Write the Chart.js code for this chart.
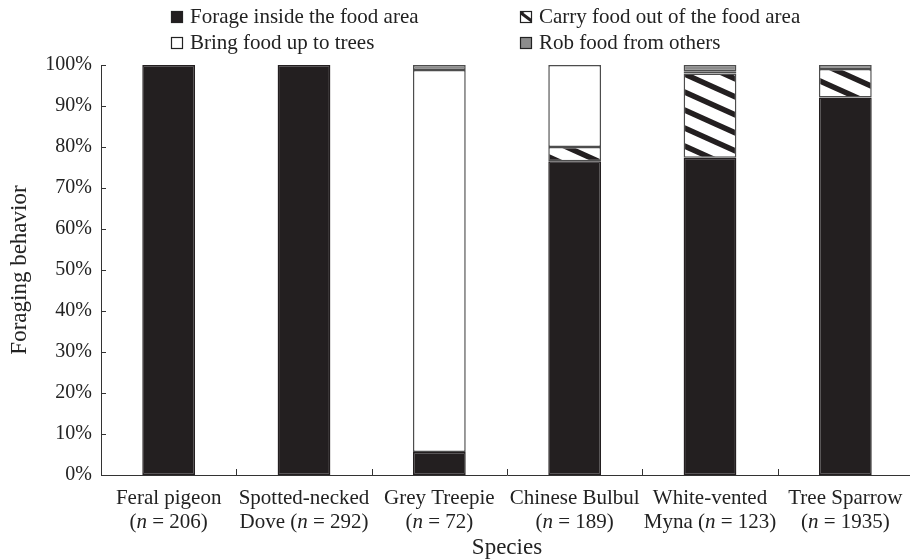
<!DOCTYPE html>
<html>
<head>
<meta charset="utf-8">
<script src="https://cdn.jsdelivr.net/npm/chart.js@4.4.1/dist/chart.umd.min.js"></script>
<style>
  html, body { margin: 0; padding: 0; background: #fff; overflow: hidden; }
  #wrap { position: relative; width: 913px; height: 559px; }
</style>
</head>
<body>
<div id="wrap"><canvas id="myChart"></canvas></div>
<script>
// species names (line 1), line-2 prefix, sample size
const species = ['Feral pigeon', 'Spotted-necked', 'Grey Treepie', 'Chinese Bulbul', 'White-vented', 'Tree Sparrow'];
const line2Prefix = ['', 'Dove ', '', '', 'Myna ', ''];
const sampleN = [206, 292, 72, 189, 123, 1935];

// percentages, stacked bottom -> top
const forage = [100, 100, 5.6, 76.5, 77.4, 92.1];
const carry = [0, 0, 0, 3.5, 20.5, 6.9];
const bring = [0, 0, 93.2, 20.0, 0.6, 0];
const rob = [0, 0, 1.2, 0, 1.5, 1.0];

const yTicks = [0, 10, 20, 30, 40, 50, 60, 70, 80, 90, 100];

const FONT = "'Liberation Serif', 'Times New Roman', serif";
const BLACK = '#231f20';
const GREY = '#8c8c8c';
const EDGE = '#4d4d4d';

// diagonal hatch pattern
function makeHatch() {
  const c = document.createElement('canvas');
  c.width = 40; c.height = 18;
  const g = c.getContext('2d');
  g.fillStyle = '#fff';
  g.fillRect(0, 0, 40, 18);
  g.strokeStyle = BLACK;
  g.lineWidth = 5.5;
  [-18, 0, 18].forEach(off => {
    g.beginPath();
    g.moveTo(-10, off - 4.5);
    g.lineTo(50, off + 22.5);
    g.stroke();
  });
  return g.createPattern(c, 'repeat');
}
const hatch = makeHatch();

const legendItems = [
  { text: 'Forage inside the food area', fill: BLACK, x: 171, y: 17 },
  { text: 'Carry food out of the food area', fill: 'hatch', x: 520, y: 17 },
  { text: 'Bring food up to trees', fill: '#fff', x: 171, y: 43 },
  { text: 'Rob food from others', fill: GREY, x: 520, y: 43 }
];

const customDraw = {
  id: 'customDraw',
  afterDraw(chart) {
    const ctx = chart.ctx;
    const xs = chart.scales.x, ys = chart.scales.y;
    const area = chart.chartArea;
    ctx.save();
    // inward ticks
    ctx.strokeStyle = '#333';
    ctx.lineWidth = 1;
    yTicks.forEach(v => {
      const y = Math.round(ys.getPixelForValue(v)) + 0.5;
      ctx.beginPath();
      ctx.moveTo(area.left, y);
      ctx.lineTo(area.left + 5, y);
      ctx.stroke();
    });
    for (let i = 1; i < species.length; i++) {
      const x = Math.round((xs.getPixelForValue(i - 1) + xs.getPixelForValue(i)) / 2) + 0.5;
      ctx.beginPath();
      ctx.moveTo(x, area.bottom);
      ctx.lineTo(x, area.bottom - 6);
      ctx.stroke();
    }
    // x labels with italic n
    ctx.fillStyle = '#222';
    ctx.textBaseline = 'middle';
    const reg = '21px ' + FONT, ita = 'italic 21px ' + FONT;
    species.forEach((name, i) => {
      const cx = xs.getPixelForValue(i);
      ctx.font = reg;
      ctx.textAlign = 'center';
      ctx.fillText(name, cx, area.bottom + 23);
      const a = line2Prefix[i] + '(';
      const b = 'n';
      const c = ' = ' + sampleN[i] + ')';
      ctx.font = reg; const wa = ctx.measureText(a).width, wc = ctx.measureText(c).width;
      ctx.font = ita; const wb = ctx.measureText(b).width;
      const x0 = cx - (wa + wb + wc) / 2;
      const y2 = area.bottom + 47;
      ctx.textAlign = 'left';
      ctx.font = reg; ctx.fillText(a, x0, y2);
      ctx.font = ita; ctx.fillText(b, x0 + wa, y2);
      ctx.font = reg; ctx.fillText(c, x0 + wa + wb, y2);
    });
    // legend
    ctx.font = reg;
    ctx.textAlign = 'left';
    legendItems.forEach(it => {
      const bx = it.x, by = it.y - 6, s = 12;
      if (it.fill === 'hatch') {
        ctx.fillStyle = '#fff';
        ctx.fillRect(bx, by, s, s);
        ctx.save();
        ctx.beginPath();
        ctx.rect(bx, by, s, s);
        ctx.clip();
        ctx.fillStyle = BLACK;
        ctx.beginPath();
        ctx.moveTo(bx, by); ctx.lineTo(bx + 6, by); ctx.lineTo(bx, by + 4);
        ctx.closePath(); ctx.fill();
        ctx.strokeStyle = BLACK;
        ctx.lineWidth = 3;
        ctx.beginPath();
        ctx.moveTo(bx + 1, by + 2); ctx.lineTo(bx + 13, by + 11);
        ctx.stroke();
        ctx.restore();
      } else {
        ctx.fillStyle = it.fill;
        ctx.fillRect(bx, by, s, s);
      }
      ctx.strokeStyle = '#222';
      ctx.lineWidth = 1.2;
      ctx.strokeRect(bx + 0.5, by + 0.5, s - 1, s - 1);
      ctx.fillStyle = '#222';
      ctx.fillText(it.text, bx + 19, it.y);
    });
    ctx.restore();
  }
};

function ds(label, data, fill, edge) {
  return {
    label: label,
    data: data,
    backgroundColor: fill,
    borderColor: edge,
    borderWidth: 1.5,
    borderSkipped: false,
    categoryPercentage: 1,
    barPercentage: 0.39
  };
}

new Chart(document.getElementById('myChart'), {
  type: 'bar',
  data: {
    labels: species,
    datasets: [
      ds('Forage inside the food area', forage, BLACK, BLACK),
      ds('Carry food out of the food area', carry, hatch, EDGE),
      ds('Bring food up to trees', bring, '#fff', EDGE),
      ds('Rob food from others', rob, GREY, EDGE)
    ]
  },
  options: {
    responsive: true,
    maintainAspectRatio: false,
    animation: false,
    layout: { padding: { top: 65, right: 0, bottom: 0, left: 0 } },
    plugins: { legend: { display: false }, tooltip: { enabled: false } },
    scales: {
      x: {
        stacked: true,
        grid: { display: false },
        border: { display: true, color: '#333', width: 1 },
        ticks: { display: false },
        title: {
          display: true, text: 'Species', color: '#222',
          font: { family: FONT, size: 23 }, padding: { top: 0, bottom: -3 }
        },
        afterFit(scale) { scale.height = 84; }
      },
      y: {
        stacked: true,
        min: 0, max: 100,
        grid: { display: false, drawTicks: false },
        border: { display: true, color: '#333', width: 1 },
        ticks: {
          stepSize: 10, padding: 9, color: '#222',
          font: { family: FONT, size: 20 },
          callback: v => v + '%'
        },
        title: {
          display: true, text: 'Foraging behavior', color: '#222',
          font: { family: FONT, size: 23 }, padding: { top: 6, bottom: 0 }
        },
        afterFit(scale) { scale.width = 101; }
      }
    }
  },
  plugins: [customDraw]
});
</script>
</body>
</html>
